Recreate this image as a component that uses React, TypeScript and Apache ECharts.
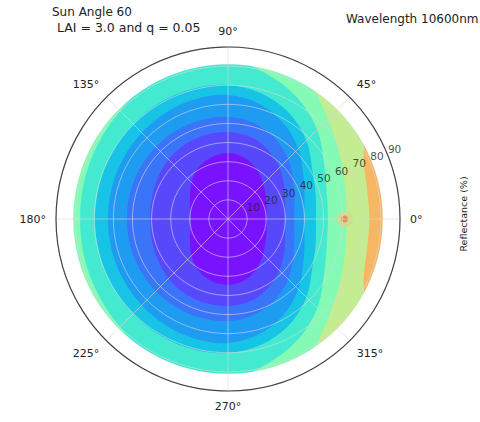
import React, { useEffect, useRef } from "react";
import * as echarts from "echarts";

// Azimuths (deg) at which the nested contour boundaries were read (upper half, mirrored below)
const AZIMUTHS = [0, 15, 30, 45, 60, 75, 90, 105, 120, 135, 150, 165, 180];

// Data extent (zenith deg) of the contour field
const DATA_EDGE = 81;

// Base band (light green) fills the whole disk
const BASE_COLOR = "#84fab4";
const R_BASE = [87, 87, 87, 87, 87, 87, 87, 87, 87, 87, 87, 87, 87];

// High-reflectance blobs on the sun side: closed loops of [zenith, azimuth] (upper half)
const YELLOWGREEN_COLOR = "#c4ec90";
const YELLOWGREEN_LOOP = [[62, 0], [63.5, 15], [67.5, 30], [74, 45], [79, 53], [84, 58], [87, 50], [87, 30], [87, 0]];
const ORANGE_COLOR = "#f5b763";
const ORANGE_LOOP = [[74, 0], [74.4, 12], [76, 20], [79, 26], [83, 29.5], [86, 25], [87, 12], [87, 0]];

// Nested "reflectance <= level" regions around the minimum, outermost first
const BAND_NAMES = ["teal", "cyan", "sky", "blue", "blueViolet", "purple"];
const BAND_COLORS = ["#44eacf", "#18c4e6", "#1e9cf2", "#3a74f8", "#5848fc", "#7812ff"];
const R_TEAL = [52.3, 53.5, 58, 66, 73, 78.5, 84, 84, 83, 80, 78.5, 77.8, 77.4];
const R_CYAN = [46, 47.5, 51, 58, 64, 68, 70.1, 70.5, 70.5, 70.1, 69.8, 69.6, 69.6];
const R_SKY = [39.8, 41.5, 45.5, 52, 58, 62.5, 64.9, 65, 64.5, 63.8, 63.3, 63, 62.8];
const R_BLUE = [34.5, 36, 39.5, 44.5, 49, 52, 53.4, 53.6, 53.6, 53.4, 53.2, 53, 52.9];
const R_BLUEVIOLET = [29.8, 31, 34, 38, 41.8, 44.5, 45.5, 45.5, 45, 44, 42.5, 41.3, 40.8];
const R_PURPLE = [20.4, 20.9, 22.8, 26, 30, 33.2, 34.5, 33.5, 31, 27, 23, 20.5, 19.4];
const BAND_RADII = [R_TEAL, R_CYAN, R_SKY, R_BLUE, R_BLUEVIOLET, R_PURPLE];

// Hotspot (sun position): [zenith, azimuth]
const HOTSPOT = [[61, 0]];

const ANGLE_TICKS_INTERVAL = 45;
const RADIAL_TICKS = [10, 20, 30, 40, 50, 60, 70, 80, 90];
const RADIAL_LABEL_ANGLE = 22.5;

const FONT = '"DejaVu Sans", sans-serif';

export default function App() {
  const ref = useRef<HTMLDivElement>(null);
  useEffect(() => {
    if (!ref.current) return;
    const chart = echarts.init(ref.current, null, { renderer: "svg" });

    const fullRing = (half: number[]) => {
      const pts: number[][] = [];
      for (let i = 0; i < AZIMUTHS.length; i++) pts.push([half[i], AZIMUTHS[i]]);
      for (let i = AZIMUTHS.length - 2; i >= 1; i--) pts.push([half[i], 360 - AZIMUTHS[i]]);
      return pts;
    };
    const mirrorLoop = (half: number[][]) => {
      const pts = half.map((p) => [p[0], p[1]]);
      for (let i = half.length - 2; i >= 1; i--) pts.push([half[i][0], 360 - half[i][1]]);
      return pts;
    };

    const shapes: { pts: number[][]; color: string }[] = [
      { pts: fullRing(R_BASE), color: BASE_COLOR },
      { pts: mirrorLoop(YELLOWGREEN_LOOP), color: YELLOWGREEN_COLOR },
      { pts: mirrorLoop(ORANGE_LOOP), color: ORANGE_COLOR },
      ...BAND_RADII.map((r, i) => ({ pts: fullRing(r), color: BAND_COLORS[i] })),
    ];

    chart.setOption({
      animation: false,
      polar: { center: [228, 219], radius: 172 },
      angleAxis: {
        type: "value",
        min: 0,
        max: 360,
        interval: ANGLE_TICKS_INTERVAL,
        startAngle: 0,
        clockwise: false,
        z: 5,
        axisLine: { show: true, lineStyle: { color: "#444", width: 1.2 } },
        axisTick: { show: false },
        axisLabel: {
          margin: 10,
          color: "#222",
          fontFamily: FONT,
          fontSize: 11,
          formatter: (v: number) => (v === 360 ? "" : v + "°"),
        },
        splitLine: { show: true, lineStyle: { color: "rgba(215,215,225,0.6)", width: 1 } },
      },
      radiusAxis: {
        type: "value",
        min: 0,
        max: 90,
        interval: 10,
        z: 5,
        axisLine: { show: false },
        axisTick: { show: false },
        axisLabel: { show: false },
        splitLine: { show: true, lineStyle: { color: "rgba(215,215,225,0.6)", width: 1 } },
      },
      series: [
        {
          type: "custom",
          coordinateSystem: "polar",
          z: 2,
          data: shapes.map((_, i) => [0, i]),
          renderItem: (params: any, api: any) => {
            const s = shapes[params.dataIndex];
            const pts = s.pts.map((p) => api.coord(p));
            return {
              type: "polygon",
              shape: { points: pts, smooth: 0.34, smoothConstraint: false },
              style: { fill: s.color, stroke: null },
            };
          },
        },
        {
          type: "scatter",
          coordinateSystem: "polar",
          z: 3,
          data: HOTSPOT,
          symbolSize: 16,
          itemStyle: { color: "#d6d88c", opacity: 0.85 },
        },
        {
          type: "scatter",
          coordinateSystem: "polar",
          z: 3,
          data: HOTSPOT,
          symbolSize: 7,
          itemStyle: { color: "#ec7a46" },
        },
        {
          // white area between the data edge and the outer circle
          type: "custom",
          coordinateSystem: "polar",
          z: 4,
          data: [[DATA_EDGE, 0]],
          renderItem: (params: any, api: any) => {
            const c = api.coord([0, 0]);
            const e = api.coord([DATA_EDGE, 0]);
            const o = api.coord([90, 0]);
            return {
              type: "ring",
              shape: { cx: c[0], cy: c[1], r0: e[0] - c[0], r: o[0] - c[0] + 6 },
              style: { fill: "#ffffff", stroke: null },
            };
          },
        },
        {
          type: "scatter",
          coordinateSystem: "polar",
          z: 10,
          data: RADIAL_TICKS.map((r) => [r, RADIAL_LABEL_ANGLE]),
          symbolSize: 0,
          label: {
            show: true,
            position: [1, 1],
            align: "left",
            verticalAlign: "bottom",
            color: "#222",
            fontFamily: FONT,
            fontSize: 10.5,
            formatter: (p: any) => String(p.value[0]),
          },
        },
      ],
      graphic: [
        { type: "text", x: 52, y: 6, style: { text: "Sun Angle 60", font: `12px ${FONT}`, fill: "#222" } },
        { type: "text", x: 57, y: 21, style: { text: "LAI = 3.0 and q = 0.05", font: `12.5px ${FONT}`, fill: "#222" } },
        { type: "text", x: 346, y: 13, style: { text: "Wavelength 10600nm", font: `12px ${FONT}`, fill: "#222" } },
        {
          type: "text",
          x: 463,
          y: 214,
          rotation: Math.PI / 2,
          style: { text: "Reflectance (%)", font: `9.5px ${FONT}`, fill: "#222", textAlign: "center", textVerticalAlign: "middle" },
        },
      ],
    });
    return () => chart.dispose();
  }, []);
  return <div ref={ref} style={{ position: "fixed", left: 0, top: 0, width: 480, height: 422, background: "#fff" }} />;
}
